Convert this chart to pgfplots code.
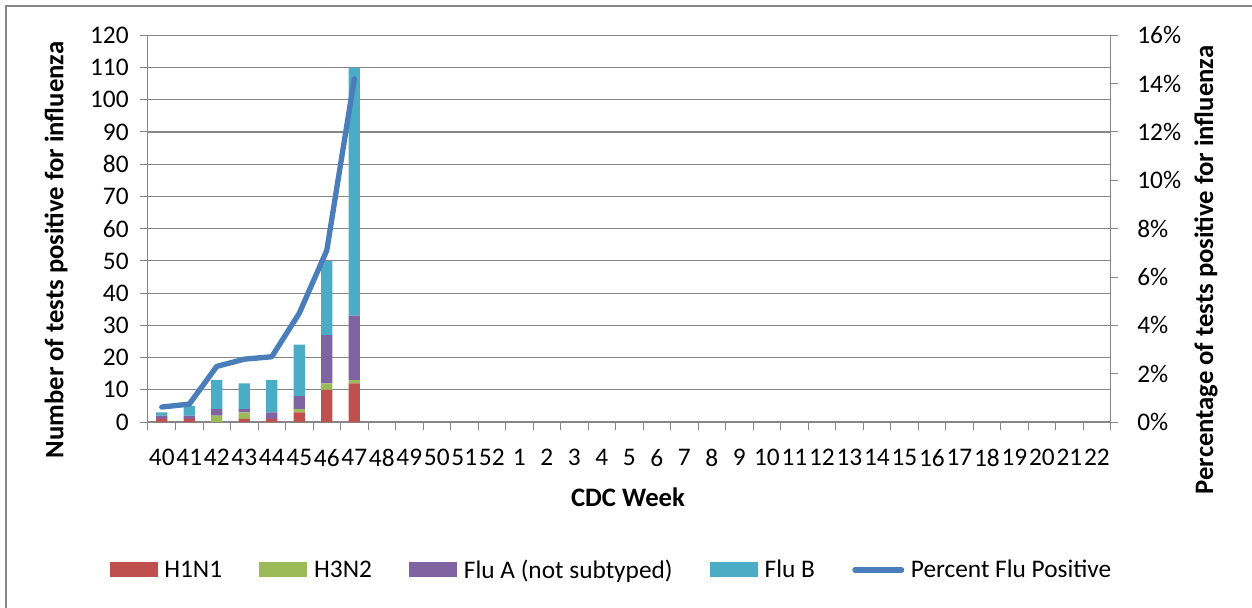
\documentclass[border=0pt]{standalone}
\usepackage{pgfplots}
\usepackage{pgfplotstable}
\pgfplotsset{compat=1.18}
\usepackage{fontspec}
\setmainfont{Carlito}

\definecolor{h1n1}{HTML}{C0504D}
\definecolor{h3n2}{HTML}{9BBB59}
\definecolor{fluA}{HTML}{8064A2}
\definecolor{fluB}{HTML}{4BACC6}
\definecolor{pct}{HTML}{4A7EBB}
\definecolor{axgray}{HTML}{868686}

\newcommand\fs{\fontsize{19}{23}\selectfont}
\newcommand\fb{\fontsize{20}{24}\selectfont\bfseries}

% weeks 40..47 (x = 0..7); later weeks have no data
\pgfplotstableread{
x h1n1 h3n2 fluA fluB pct
0 1 0 1 1 0.62
1 1 0 1 3 0.74
2 0 2 2 9 2.30
3 1 2 1 8 2.60
4 1 0 2 10 2.70
5 3 1 4 16 4.50
6 10 2 15 23 7.10
7 12 1 20 77 14.20
}\flu

\pgfplotsset{
  common/.style={
    scale only axis, width=722pt, height=290pt,
    xmin=-0.5, xmax=34.5,
    tick align=outside,
    axis line style={axgray, line width=0.75pt},
    every tick label/.append style={font=\fs},
    /pgf/number format/assume math mode=true,
  },
  barleg/.style={legend image code/.code={\fill[##1] (0pt,-5.6pt) rectangle (36pt,5.6pt);}},
  lineleg/.style={legend image code/.code={\draw[##1] (2pt,0pt) -- (37pt,0pt);}},
}

\begin{document}
\begin{tikzpicture}[font=\fs]
\useasboundingbox (-111pt,-138.75pt) rectangle (828pt,316.5pt);
\draw[axgray, line width=1pt] (-106.5pt,-140pt) -- (-106.5pt,312pt) -- (830pt,312pt);

\begin{axis}[common,
  axis y line*=left, axis x line*=bottom,
  ybar stacked, bar width=8.5pt,
  ymin=0, ymax=120, ytick={0,10,...,120},
  ymajorgrids, major grid style={axgray, line width=0.9pt},
  xtick={0,...,34},
  xticklabels={40,41,42,43,44,45,46,47,48,49,50,51,52,1,2,3,4,5,6,7,8,9,10,11,12,13,14,15,16,17,18,19,20,21,22},
  minor xtick={-0.5,0.5,...,34.5},
  major x tick style={draw=none},
  minor x tick style={draw=axgray, line width=0.75pt},
  minor tick length=6pt, major tick length=6pt,
  ytick style={draw=axgray, line width=0.75pt},
  xticklabel style={yshift=-11pt},
  yticklabel style={xshift=-5pt},
]
\addplot[fill=h1n1, draw=none] table[x=x, y=h1n1]{\flu};
\addplot[fill=h3n2, draw=none] table[x=x, y=h3n2]{\flu};
\addplot[fill=fluA, draw=none] table[x=x, y=fluA]{\flu};
\addplot[fill=fluB, draw=none] table[x=x, y=fluB]{\flu};
\end{axis}

\begin{axis}[common,
  axis y line*=right, axis x line=none,
  ymin=0, ymax=16, ytick={0,2,...,16},
  yticklabel={\pgfmathprintnumber{\tick}\%},
  major tick length=5.5pt,
  ytick style={draw=axgray, line width=0.75pt},
  yticklabel style={xshift=11pt},
  legend columns=5,
  legend style={at={(0.4818,-0.3824)}, anchor=center, draw=none, fill=none,
    font=\fs, nodes={inner sep=2pt},
    /tikz/every odd column/.append style={column sep=3pt},
    /tikz/every even column/.append style={column sep=26pt}},
]
\addlegendimage{fill=h1n1, draw=none, barleg}
\addlegendentry{H1N1}
\addlegendimage{fill=h3n2, draw=none, barleg}
\addlegendentry{H3N2}
\addlegendimage{fill=fluA, draw=none, barleg}
\addlegendentry{Flu A (not subtyped)}
\addlegendimage{fill=fluB, draw=none, barleg}
\addlegendentry{Flu B}
\addplot[pct, line width=4pt, line join=round, line cap=round, lineleg]
  table[x=x, y=pct]{\flu};
\addlegendentry{Percent Flu Positive}
\end{axis}

\node[rotate=90, font=\fb] at (-69pt,129pt) {Number of tests positive for influenza};
\node[rotate=90, font=\fb] at (793.5pt,114pt) {Percentage of tests positive for influenza};
\node[font=\fb] at (360pt,-56.25pt) {CDC Week};
\end{tikzpicture}
\end{document}
